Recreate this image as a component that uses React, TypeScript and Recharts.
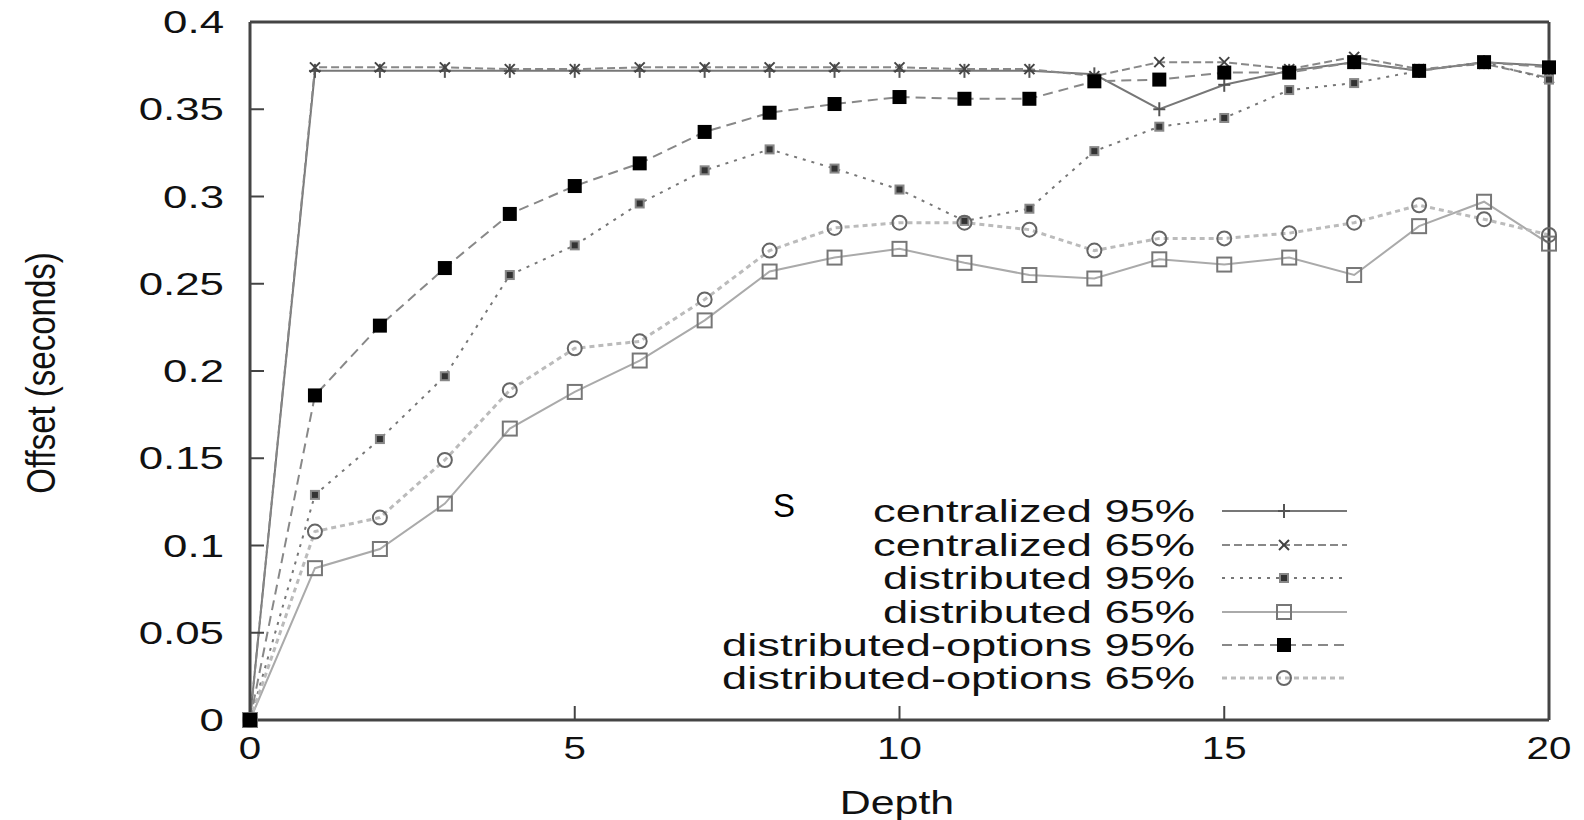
import React from "react"
import { LineChart, Line, XAxis, YAxis } from "recharts"

const depths = [0, 1, 2, 3, 4, 5, 6, 7, 8, 9, 10, 11, 12, 13, 14, 15, 16, 17, 18, 19, 20]

const centralized95 = [0, 0.372, 0.372, 0.372, 0.372, 0.372, 0.372, 0.372, 0.372, 0.372, 0.372, 0.372, 0.372, 0.370, 0.350, 0.364, 0.372, 0.377, 0.372, 0.377, 0.375]
const centralized65 = [0, 0.374, 0.374, 0.374, 0.373, 0.373, 0.374, 0.374, 0.374, 0.374, 0.374, 0.373, 0.373, 0.369, 0.377, 0.377, 0.373, 0.380, 0.373, 0.376, 0.368]
const distributed95 = [0, 0.129, 0.161, 0.197, 0.255, 0.272, 0.296, 0.315, 0.327, 0.316, 0.304, 0.286, 0.293, 0.326, 0.340, 0.345, 0.361, 0.365, 0.372, 0.377, 0.367]
const distributed65 = [0, 0.087, 0.098, 0.124, 0.167, 0.188, 0.206, 0.229, 0.257, 0.265, 0.270, 0.262, 0.255, 0.253, 0.264, 0.261, 0.265, 0.255, 0.283, 0.297, 0.273]
const options95 = [0, 0.186, 0.226, 0.259, 0.290, 0.306, 0.319, 0.337, 0.348, 0.353, 0.357, 0.356, 0.356, 0.366, 0.367, 0.371, 0.371, 0.377, 0.372, 0.377, 0.374]
const options65 = [0, 0.108, 0.116, 0.149, 0.189, 0.213, 0.217, 0.241, 0.269, 0.282, 0.285, 0.285, 0.281, 0.269, 0.276, 0.276, 0.279, 0.285, 0.295, 0.287, 0.278]

const xTicks = [0, 5, 10, 15, 20]
const yTicks = [0, 0.05, 0.1, 0.15, 0.2, 0.25, 0.3, 0.35, 0.4]

const FONT = "'Liberation Sans', Arial, sans-serif"
const BORDER = "#444"

type MarkerKind = "plus" | "cross" | "star" | "openSquare" | "square" | "circle"

// drawn in this order; the filled squares go last so they sit on top at the origin
const series = [
  { key: "c95", name: "centralized 95%", values: centralized95, stroke: "#777", dash: undefined, width: 2, marker: "plus" as MarkerKind },
  { key: "c65", name: "centralized 65%", values: centralized65, stroke: "#888", dash: "8 4", width: 2, marker: "cross" as MarkerKind },
  { key: "d95", name: "distributed 95%", values: distributed95, stroke: "#777", dash: "3 6", width: 2, marker: "star" as MarkerKind },
  { key: "d65", name: "distributed 65%", values: distributed65, stroke: "#aaa", dash: undefined, width: 2, marker: "openSquare" as MarkerKind },
  { key: "o95", name: "distributed-options 95%", values: options95, stroke: "#888", dash: "10 6", width: 2, marker: "square" as MarkerKind },
  { key: "o65", name: "distributed-options 65%", values: options65, stroke: "#bbb", dash: "5 4", width: 3, marker: "circle" as MarkerKind },
]
const drawOrder = ["c95", "c65", "d95", "d65", "o65", "o95"]

const data = depths.map((d, i) => {
  const row: any = { depth: d }
  series.forEach((s) => (row[s.key] = s.values[i]))
  return row
})

function Marker({ kind, cx, cy }: { kind: MarkerKind; cx: number; cy: number }) {
  switch (kind) {
    case "plus":
      return (
        <g stroke="#555" strokeWidth={2}>
          <line x1={cx - 6} y1={cy} x2={cx + 6} y2={cy} />
          <line x1={cx} y1={cy - 7} x2={cx} y2={cy + 7} />
        </g>
      )
    case "cross":
      return (
        <g stroke="#444" strokeWidth={2}>
          <line x1={cx - 5} y1={cy - 5} x2={cx + 5} y2={cy + 5} />
          <line x1={cx - 5} y1={cy + 5} x2={cx + 5} y2={cy - 5} />
        </g>
      )
    case "star":
      return <rect x={cx - 4} y={cy - 4} width={8} height={8} fill="#333" stroke="#888" strokeWidth={2} />
    case "openSquare":
      return <rect x={cx - 7} y={cy - 7} width={14} height={14} fill="none" stroke="#777" strokeWidth={2} />
    case "square":
      return <rect x={cx - 7} y={cy - 7} width={14} height={14} fill="#000" />
    default:
      return <circle cx={cx} cy={cy} r={7} fill="none" stroke="#666" strokeWidth={2} />
  }
}

function YTick(props: any) {
  const { x, y, payload } = props
  return (
    <g transform={`translate(${x},${y}) scale(1.37,1)`}>
      <text textAnchor="end" dy={11} fontSize={32} fontFamily={FONT} fill="#111">
        {String(payload.value)}
      </text>
    </g>
  )
}

function XTick(props: any) {
  const { x, y, payload } = props
  return (
    <g transform={`translate(${x},${y}) scale(1.3,1)`}>
      <text textAnchor="middle" dy={23} fontSize={31} fontFamily={FONT} fill="#111">
        {String(payload.value)}
      </text>
    </g>
  )
}

function Overlay() {
  const rows = [511, 545, 578, 612, 645, 678]
  return (
    <svg width={1584} height={820} style={{ position: "absolute", left: 0, top: 0, pointerEvents: "none" }}>
      {series.map((s, i) => (
        <g key={s.key}>
          <g transform={`translate(1195,${rows[i]}) scale(1.46,1)`}>
            <text textAnchor="end" dy={11} fontSize={31} fontFamily={FONT} fill="#111">
              {s.name}
            </text>
          </g>
          <line x1={1222} x2={1347} y1={rows[i]} y2={rows[i]} stroke={s.stroke} strokeWidth={s.width} strokeDasharray={s.dash} />
          <Marker kind={s.marker} cx={1284} cy={rows[i]} />
        </g>
      ))}
      <text x={784} y={517} textAnchor="middle" fontSize={33} fontFamily={FONT} fill="#000">
        S
      </text>
      <g transform="translate(897,803) scale(1.3,1)">
        <text textAnchor="middle" dy={11} fontSize={33} fontFamily={FONT} fill="#111">
          Depth
        </text>
      </g>
      <g transform="translate(41,373) scale(1.25,1) rotate(-90)">
        <text textAnchor="middle" dy={11} fontSize={33} fontFamily={FONT} fill="#111">
          Offset (seconds)
        </text>
      </g>
    </svg>
  )
}

export default function App() {
  return (
    <div style={{ position: "absolute", left: 0, top: 0, width: 1584, height: 820, background: "#fff" }}>
      <LineChart width={1584} height={820} data={data} margin={{ top: 21, right: 34, bottom: 0, left: 0 }}>
        <XAxis
          dataKey="depth"
          type="number"
          domain={[0, 20]}
          ticks={xTicks}
          height={100}
          axisLine={{ stroke: BORDER, strokeWidth: 3 }}
          tickLine={{ stroke: BORDER, strokeWidth: 2 }}
          tickSize={-14}
          tickMargin={30}
          tick={<XTick />}
          interval={0}
        />
        <XAxis
          xAxisId="top"
          orientation="top"
          type="number"
          domain={[0, 20]}
          ticks={xTicks}
          height={1}
          axisLine={{ stroke: BORDER, strokeWidth: 3 }}
          tickLine={{ stroke: BORDER, strokeWidth: 2 }}
          tickSize={-14}
          tick={false}
        />
        <YAxis
          type="number"
          domain={[0, 0.4]}
          ticks={yTicks}
          width={250}
          axisLine={{ stroke: BORDER, strokeWidth: 3 }}
          tickLine={{ stroke: BORDER, strokeWidth: 2 }}
          tickSize={-14}
          tickMargin={40}
          tick={<YTick />}
          interval={0}
        />
        <YAxis
          yAxisId="right"
          orientation="right"
          type="number"
          domain={[0, 0.4]}
          ticks={yTicks}
          width={1}
          axisLine={{ stroke: BORDER, strokeWidth: 3 }}
          tickLine={{ stroke: BORDER, strokeWidth: 2 }}
          tickSize={-14}
          tick={false}
        />
        {drawOrder.map((k) => {
          const s = series.find((x) => x.key === k)!
          return (
            <Line
              key={s.key}
              type="linear"
              dataKey={s.key}
              name={s.name}
              stroke={s.stroke}
              strokeWidth={s.width}
              strokeDasharray={s.dash}
              isAnimationActive={false}
              dot={(p: any) => <Marker key={`${s.key}-${p.index}`} kind={s.marker} cx={p.cx} cy={p.cy} />}
              activeDot={false}
            />
          )
        })}
      </LineChart>
      <Overlay />
    </div>
  )
}
